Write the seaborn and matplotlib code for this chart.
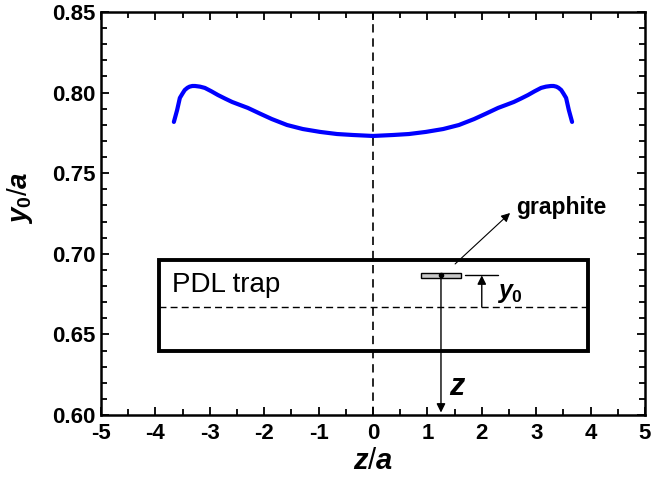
import matplotlib
matplotlib.use("Agg")
import matplotlib.pyplot as plt
import seaborn as sns
import pandas as pd
from matplotlib.patches import Rectangle
from matplotlib.ticker import MultipleLocator, FormatStrFormatter

# ---- data ----
z_vals = [-3.66, -3.63, -3.60, -3.55, -3.50, -3.46, -3.41, -3.37, -3.32, -3.27, -3.18, -3.09,
          -2.97, -2.85, -2.72, -2.59, -2.45, -2.30, -2.08,
          -1.86, -1.58, -1.29, -0.97, -0.66, -0.37, 0.0,
          0.37, 0.66, 0.97, 1.29, 1.58, 1.86, 2.08, 2.30, 2.45, 2.59, 2.72, 2.85, 2.97,
          3.09, 3.18, 3.27, 3.32, 3.37, 3.41, 3.46, 3.50, 3.55, 3.60, 3.63, 3.66]
y0_vals = [0.7818, 0.7855, 0.7892, 0.7967, 0.7995, 0.8016, 0.8030, 0.8037, 0.8041, 0.8041, 0.8037, 0.8029,
           0.8008, 0.7985, 0.7963, 0.7942, 0.7924, 0.7905, 0.7870,
           0.7836, 0.7799, 0.7774, 0.7756, 0.7743, 0.7737, 0.7731,
           0.7737, 0.7743, 0.7756, 0.7774, 0.7799, 0.7836, 0.7870, 0.7905, 0.7924, 0.7942, 0.7963, 0.7985, 0.8008,
           0.8029, 0.8037, 0.8041, 0.8041, 0.8037, 0.8030, 0.8016, 0.7995, 0.7967, 0.7892, 0.7855, 0.7818]

x_ticks = [-5, -4, -3, -2, -1, 0, 1, 2, 3, 4, 5]
y_ticks = [0.60, 0.65, 0.70, 0.75, 0.80, 0.85]

df = pd.DataFrame({"z": z_vals, "y0": y0_vals})

sns.set_style("ticks")
plt.rcParams["font.family"] = ["Liberation Sans", "DejaVu Sans"]
plt.rcParams["mathtext.fontset"] = "custom"
plt.rcParams["mathtext.it"] = "Liberation Sans:italic:bold"
plt.rcParams["mathtext.rm"] = "Liberation Sans:bold"
plt.rcParams["mathtext.bf"] = "Liberation Sans:bold"
plt.rcParams["axes.unicode_minus"] = False
plt.rcParams["text.color"] = "black"
plt.rcParams["axes.labelcolor"] = "black"
plt.rcParams["xtick.color"] = "black"
plt.rcParams["ytick.color"] = "black"

fig = plt.figure(figsize=(6.54, 4.84), dpi=100)
ax = fig.add_axes([0.1544, 0.1426, 0.8318, 0.8326])

# zero line
ax.axvline(0, color="black", lw=1.2, ls=(0, (5, 3.5)), zorder=1)

sns.lineplot(data=df, x="z", y="y0", ax=ax, color="#0000FF", lw=3.0, sort=False,
             zorder=3)

ax.set_xlim(-5, 5)
ax.set_ylim(0.60, 0.85)
ax.set_xticks(x_ticks)
ax.set_yticks(y_ticks)
ax.xaxis.set_minor_locator(MultipleLocator(0.5))
ax.yaxis.set_minor_locator(MultipleLocator(0.01))
ax.yaxis.set_major_formatter(FormatStrFormatter("%.2f"))
ax.tick_params(which="both", direction="in", top=True, right=True, width=1.3,
               labelsize=16, color="black")
ax.tick_params(axis="x", pad=6)
ax.tick_params(axis="y", pad=4)
ax.tick_params(which="major", length=6)
ax.tick_params(which="minor", length=4)
for lab in ax.get_xticklabels() + ax.get_yticklabels():
    lab.set_fontweight("bold")
for s in ax.spines.values():
    s.set_linewidth(1.8)
    s.set_color("black")

ax.set_xlabel(r"$z$/$a$", fontsize=21, labelpad=2)
ax.set_ylabel(r"$y_0$/$a$", fontsize=20)
ax.yaxis.set_label_coords(-0.122, 0.54)

# ---- inset schematic (PDL trap) ----
trap_left, trap_right = -3.93, 3.96
trap_bottom, trap_top = 0.6397, 0.6962
center_y = 0.667
ax.add_patch(Rectangle((trap_left, trap_bottom), trap_right - trap_left, trap_top - trap_bottom,
                       fill=False, ec="black", lw=2.8, zorder=4))
ax.plot([trap_left, trap_right], [center_y, center_y], color="black", lw=1.0,
        ls=(0, (5, 3)), zorder=4)
ax.text(-3.70, 0.6806, "PDL trap", fontsize=20, va="center", ha="left", zorder=5)

# graphite flake
g_left, g_right, g_bot, g_top = 0.88, 1.62, 0.6850, 0.6881
ax.add_patch(Rectangle((g_left, g_bot), g_right - g_left, g_top - g_bot,
                       fc="#C8C8C8", ec="black", lw=1.0, zorder=6))
ax.plot([1.25], [0.6866], "o", color="black", ms=3, zorder=7)
ax.annotate("", xy=(1.25, 0.6015), xytext=(1.25, 0.6866),
            arrowprops=dict(arrowstyle="-|>", color="black", lw=1.0,
                            mutation_scale=13, shrinkA=0, shrinkB=0), zorder=6)
ax.text(1.40, 0.6175, r"$z$", fontsize=22, ha="left", va="center")

# y0 marker
ax.plot([1.69, 2.30], [0.6866, 0.6866], color="black", lw=1.0, zorder=6)
ax.annotate("", xy=(2.0, 0.6866), xytext=(2.0, center_y),
            arrowprops=dict(arrowstyle="-|>", color="black", lw=1.0,
                            mutation_scale=13, shrinkA=0, shrinkB=0), zorder=6)
ax.text(2.28, 0.6755, r"$y_0$", fontsize=18, ha="left", va="center")

# graphite label
ax.annotate("", xy=(2.52, 0.7253), xytext=(1.51, 0.6937),
            arrowprops=dict(arrowstyle="-|>", color="black", lw=0.8,
                            mutation_scale=13, shrinkA=0, shrinkB=0), zorder=6)
ax.text(2.64, 0.7285, "graphite", fontsize=16.5, fontweight="bold", ha="left", va="center")

fig.savefig("out.png", dpi=100)
